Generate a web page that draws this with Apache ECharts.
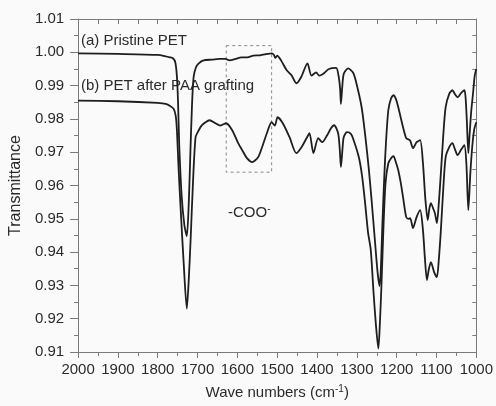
<!DOCTYPE html>
<html>
<head>
<meta charset="utf-8">
<script src="https://cdn.jsdelivr.net/npm/echarts@6/dist/echarts.min.js"></script>
<style>
html,body{margin:0;padding:0;background:#fafafa;}
#c{width:496px;height:406px;}
</style>
</head>
<body>
<div id="c"></div>
<script>
// Curve (a) Pristine PET
const wnA = [2000,1900,1800,1780,1770,1762,1756,1752,1749,1746,1740,1733,1727,1722,1718,1714,1710,1704,1697,1685,1663,1645,1630,1620,1605,1590,1575,1560,1543,1525,1514,1508,1505,1500,1490,1476,1464,1452,1440,1424,1414,1402,1395,1385,1370,1352,1346,1342,1340,1337,1333,1322,1310,1303,1288,1278,1270,1263,1255,1248,1243,1240,1236,1231,1227,1221,1214,1208,1202,1196,1184,1176,1170,1166,1159,1150,1141,1134,1128,1122,1118,1114,1108,1104,1099,1094,1089,1083,1077,1068,1060,1054,1047,1038,1030,1027,1024,1020,1017,1013,1008,1004,1000];
const trA = [0.9997,0.9995,0.9992,0.9988,0.9985,0.9982,0.997,0.993,0.985,0.972,0.957,0.948,0.9448,0.955,0.970,0.984,0.9925,0.9955,0.9967,0.9976,0.9978,0.998,0.998,0.9976,0.998,0.9985,0.9985,0.999,0.9991,0.9995,0.9997,0.9992,0.9983,0.9990,0.9975,0.9946,0.9931,0.9907,0.9925,0.9967,0.993,0.994,0.993,0.9935,0.995,0.9953,0.993,0.989,0.9845,0.989,0.9935,0.9952,0.994,0.9916,0.9835,0.974,0.965,0.9556,0.944,0.934,0.9298,0.934,0.948,0.963,0.9726,0.9826,0.9862,0.9871,0.986,0.9835,0.9775,0.9742,0.9738,0.9735,0.9712,0.973,0.9736,0.9667,0.956,0.9496,0.953,0.9547,0.953,0.9517,0.9487,0.955,0.9637,0.975,0.9835,0.9875,0.9886,0.9875,0.9865,0.9878,0.9886,0.9865,0.980,0.9697,0.975,0.982,0.988,0.993,0.995];
// Curve (b) PET after PAA grafting
const wnB = [2000,1900,1800,1780,1768,1760,1755,1752,1748,1742,1735,1727,1722,1717,1712,1705,1697,1690,1680,1670,1655,1643,1628,1613,1598,1585,1576,1563,1548,1538,1526,1514,1506,1499,1486,1469,1452,1439,1425,1419,1409,1397,1387,1375,1365,1357,1347,1343,1340,1336,1333,1325,1315,1308,1295,1287,1280,1272,1265,1258,1252,1246,1242,1238,1233,1228,1221,1214,1208,1202,1196,1190,1184,1176,1170,1166,1159,1150,1141,1134,1129,1124,1119,1114,1106,1099,1094,1089,1083,1077,1068,1060,1054,1047,1038,1030,1025,1020,1015,1010,1005,1000];
const trB = [0.9855,0.9853,0.9848,0.9845,0.9838,0.983,0.981,0.977,0.966,0.952,0.937,0.923,0.932,0.945,0.9595,0.9745,0.9766,0.978,0.979,0.9796,0.9787,0.978,0.9787,0.9766,0.9727,0.970,0.9682,0.967,0.9685,0.9715,0.9757,0.979,0.978,0.9805,0.9787,0.9745,0.9697,0.9715,0.9745,0.9757,0.9697,0.9742,0.973,0.975,0.9772,0.9781,0.9757,0.971,0.9655,0.971,0.9745,0.976,0.9755,0.9736,0.9685,0.963,0.9556,0.946,0.9406,0.9277,0.918,0.911,0.919,0.9307,0.948,0.9607,0.9667,0.9682,0.9688,0.967,0.9646,0.961,0.9565,0.9505,0.950,0.9502,0.9472,0.9505,0.9526,0.9466,0.938,0.9316,0.935,0.937,0.934,0.9325,0.938,0.9466,0.959,0.9685,0.9715,0.9727,0.971,0.9691,0.9708,0.9721,0.9667,0.9526,0.9637,0.972,0.977,0.979];
// Dashed highlight box (wavenumber range, transmittance range)
const boxWn = [1628, 1514];
const boxTr = [1.002, 0.964];
const xTicks = [1000, 2000, 100];
const yTicks = [0.91, 1.01, 0.01];

const FONT = 'Liberation Sans, Arial, sans-serif';
const TXT = '#2b2b2b';
const AX = '#7a7a7a';
const zip = (x, y) => x.map((v, i) => [v, y[i]]);

const chart = echarts.init(document.getElementById('c'));
chart.setOption({
  backgroundColor: '#fafafa',
  animation: false,
  grid: {left: 76, right: 17, top: 19, bottom: 54},
  xAxis: [{
    type: 'value', min: xTicks[0], max: xTicks[1], interval: xTicks[2], inverse: true,
    position: 'bottom',
    name: '{a|Wave numbers (cm}{s|-1}{a|)}',
    nameLocation: 'middle', nameGap: 32,
    nameTextStyle: {rich: {a: {fontSize: 15, fontFamily: FONT, color: TXT}, s: {fontSize: 10, fontFamily: FONT, color: TXT, verticalAlign: 'top', padding: [0,0,8,0]}}},
    axisLine: {show: true, lineStyle: {color: AX, width: 1}},
    axisTick: {show: true, inside: false, length: 6, lineStyle: {color: AX}},
    minorTick: {show: true, splitNumber: 2, length: 4, lineStyle: {color: AX}},
    axisLabel: {fontSize: 15, fontFamily: FONT, color: TXT, margin: 10, formatter: v => String(v)},
    splitLine: {show: false}
  }, {
    type: 'value', min: xTicks[0], max: xTicks[1], interval: 50, inverse: true,
    position: 'top',
    axisLine: {show: true, lineStyle: {color: AX, width: 1}},
    axisTick: {show: true, inside: true, length: 5, lineStyle: {color: AX}},
    axisLabel: {show: false}, splitLine: {show: false}
  }],
  yAxis: [{
    type: 'value', min: yTicks[0], max: yTicks[1], interval: yTicks[2],
    position: 'left',
    name: 'Transmittance', nameLocation: 'middle', nameGap: 54, nameRotate: 90,
    nameTextStyle: {fontSize: 16, fontFamily: FONT, color: TXT},
    axisLine: {show: true, lineStyle: {color: AX, width: 1}},
    axisTick: {show: true, inside: false, length: 8, lineStyle: {color: AX}},
    minorTick: {show: true, splitNumber: 2, length: 4, lineStyle: {color: AX}},
    axisLabel: {fontSize: 15, fontFamily: FONT, color: TXT, margin: 14, formatter: v => v.toFixed(2)},
    splitLine: {show: false}
  }, {
    type: 'value', min: yTicks[0], max: yTicks[1], interval: 0.005,
    position: 'right',
    axisLine: {show: true, lineStyle: {color: AX, width: 1}},
    axisTick: {show: true, inside: true, length: 4, lineStyle: {color: AX}},
    axisLabel: {show: false}, splitLine: {show: false}
  }],
  series: [{
    name: '(a) Pristine PET', type: 'line', data: zip(wnA, trA),
    showSymbol: false, smooth: 0.25,
    lineStyle: {color: '#1e1e1e', width: 1.8},
    markArea: {
      silent: true,
      itemStyle: {color: 'rgba(0,0,0,0)', borderColor: '#888', borderWidth: 1, borderType: [3, 3]},
      data: [[{coord: [boxWn[0], boxTr[0]]}, {coord: [boxWn[1], boxTr[1]]}]]
    }
  }, {
    name: '(b) PET after PAA grafting', type: 'line', data: zip(wnB, trB),
    showSymbol: false, smooth: 0.25,
    lineStyle: {color: '#1e1e1e', width: 1.8}
  }],
  graphic: [
    {type: 'text', left: 81, top: 33, style: {text: '(a) Pristine PET', font: '15px ' + FONT, fill: TXT}},
    {type: 'text', left: 81, top: 78, style: {text: '(b) PET after PAA grafting', font: '15px ' + FONT, fill: TXT}},
    {type: 'text', left: 228, top: 204, style: {
      text: '{a|-COO}{s|-}',
      rich: {a: {fontSize: 15, fontFamily: FONT, fill: TXT}, s: {fontSize: 10, fontFamily: FONT, fill: TXT, verticalAlign: 'top', padding: [0,0,8,0]}}
    }}
  ]
});
</script>
</body>
</html>
